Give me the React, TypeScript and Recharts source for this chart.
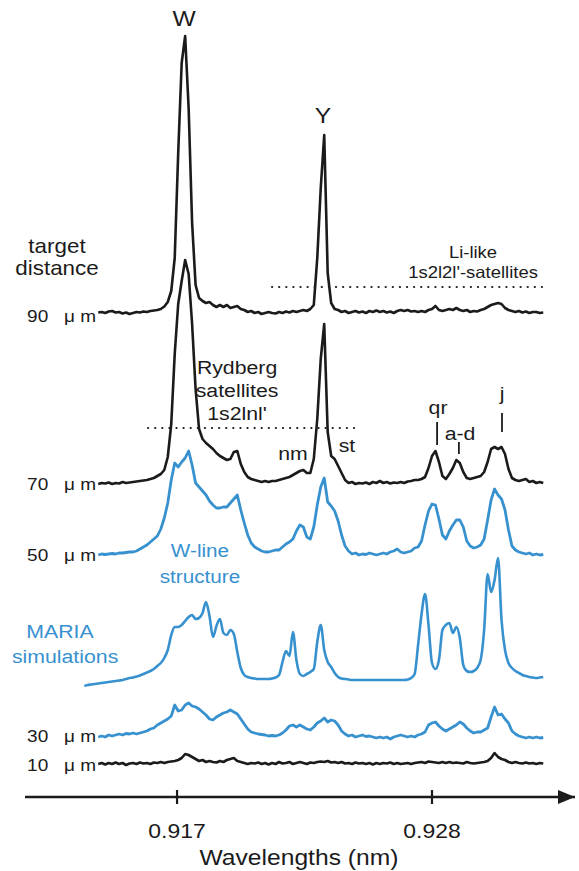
import {
  LineChart,
  Line,
  XAxis,
  YAxis,
  ReferenceDot,
  ReferenceLine,
} from "recharts";

const FONT = '"Liberation Sans", Arial, Helvetica, sans-serif';
const INK = "#1b1b1b";
const BLUE = "#3891cf";

// wavelength grid (nm) shared by all spectra
const wavelengths = [
  0.913, 0.91315, 0.9133, 0.91345, 0.9136, 0.91375, 0.9139, 0.91405, 0.9142, 0.91435, 0.9145, 0.91465, 0.9148, 0.91495, 0.9151, 0.91525, 0.9154, 0.91555, 0.9157, 0.91585,
  0.916, 0.91615, 0.9163, 0.91645, 0.9166, 0.91675, 0.9169, 0.91705, 0.9172, 0.91735, 0.9175, 0.91765, 0.9178, 0.91795, 0.9181, 0.91825, 0.9184, 0.91855, 0.9187, 0.91885,
  0.919, 0.91915, 0.9193, 0.91945, 0.9196, 0.91975, 0.9199, 0.92005, 0.9202, 0.92035, 0.9205, 0.92065, 0.9208, 0.92095, 0.9211, 0.92125, 0.9214, 0.92155, 0.9217, 0.92185,
  0.922, 0.92215, 0.9223, 0.92245, 0.9226, 0.92275, 0.9229, 0.92305, 0.9232, 0.92335, 0.9235, 0.92365, 0.9238, 0.92395, 0.9241, 0.92425, 0.9244, 0.92455, 0.9247, 0.92485,
  0.925, 0.92515, 0.9253, 0.92545, 0.9256, 0.92575, 0.9259, 0.92605, 0.9262, 0.92635, 0.9265, 0.92665, 0.9268, 0.92695, 0.9271, 0.92725, 0.9274, 0.92755, 0.9277, 0.92785,
  0.928, 0.92815, 0.9283, 0.92845, 0.9286, 0.92875, 0.9289, 0.92905, 0.9292, 0.92935, 0.9295, 0.92965, 0.9298, 0.92995, 0.9301, 0.93025, 0.9304, 0.93055, 0.9307, 0.93085,
  0.931, 0.93115, 0.9313, 0.93145, 0.9316, 0.93175, 0.9319, 0.93205, 0.9322, 0.93235, 0.9325, 0.93265, 0.9328,
];

// intensities above each spectrum's own baseline (arb. units), null = not recorded
const spec90 = [
  null, null, null, null, 0.5, 1, 0, 1.5, 2, 0.5, 1, -0.5, 0.5, -1, 0, 1, 0.5, 1.5, 1, 2,
  2.5, 3, 4, 6.5, 11, 22, 55, 160, 250, 277, 205, 90, 28, 15, 12, 10, 11, 8, 6, 8,
  6, 8, 5, 6, 7, 4, 3, 1, 2, 0, 1, -1, 0, 1, 0, -0.5, 1, 0, 1.5, 0.5,
  2, 1, 2, 3, 2, 4, 8, 55, 125, 178, 40, 10, 4, 3, 1, 2, 0, 1, 2, 0.5,
  1.5, 0, 2, 1, 2.5, 1, 2, 0.5, 1.5, 0, 2, 3, 2, 3, 1.5, 2, 1, 2, 1, 3,
  4, 7, 3, 2, 3, 4, 3, 5, 3, 2, 3, 1, 2, 1.5, 3, 4, 6, 8, 9, 10,
  9, 5, 3, 2, 1, 2, 0.5, 1.5, 0, 1, 1, 0, 0.5,
];

const spec70 = [
  null, null, null, null, 0, 1, 0.5, 1.5, 0, 1, 0.5, 2, 1, 1.5, 2, 2.5, 3, 3.5, 4, 5,
  6, 8, 10, 14, 27, 60, 130, 180, 203, 224, 210, 160, 95, 55, 45, 41, 38, 35, 31, 28,
  26, 24, 25, 32, 33, 20, 12, 7, 5, 4, 3, 2, 3, 2, 3, 3, 4, 5, 6, 7,
  9, 11, 13, 14, 11, 11, 25, 65, 125, 160, 52, 28, 25, 18, 11, 4, 1, 2, 0, 1,
  0.5, 1.5, 0, 2, 1, 3, 1, 2, 0.5, 1.5, 1, 2, 1, 2.5, 3, 4, 4, 5, 7, 16,
  28, 33, 22, 8, 5, 10, 16, 24, 21, 12, 6, 5, 6, 7, 8, 12, 22, 35, 37, 35,
  37, 30, 15, 6, 4, 3, 4, 5, 2, 3, 1, 2, 1,
];

const spec50 = [
  null, null, null, null, 0, 1, 0.5, 1, 1.5, 1, 2, 2, 2.5, 3, 3, 4, 6, 8, 10, 13,
  16, 19, 26, 37, 52, 75, 92, 88, 93, 97, 104, 90, 72, 68, 64, 60, 54, 50, 47, 47,
  48, 48, 52, 56, 60, 45, 32, 20, 12, 8, 6, 4, 3, 3, 4, 5, 5, 8, 11, 13,
  16, 24, 30, 28, 18, 16, 28, 50, 68, 77, 53, 49, 44, 34, 20, 9, 4, 1, 2, 0,
  1, 0.5, 2, 1, 0, 1, 2, 1, 3, 4, 6, 3, 2, 3, 4, 7, 8, 14, 30, 44,
  51, 50, 36, 20, 16, 24, 30, 35, 35, 28, 14, 9, 7, 8, 10, 16, 35, 55, 66, 60,
  56, 45, 25, 9, 5, 3, 2, 1, 2, 0, 1, 0, 0.5,
];

const mariaSim = [
  -6, -5, -4.5, -4, -3.5, -3, -2.5, -2, -1.5, -1, -0.5, 0, 1, 2, 2.5, 3.5, 4.5, 6, 7.5, 9,
  11, 14, 17, 22, 30, 45, 53, 53, 55, 59, 63, 65, 61, 62, 67, 78, 64, 43, 54, 61,
  47, 45, 50, 46, 28, 12, 5, 3, 2, 1.5, 1, 1, 1, 1, 1.5, 2.5, 5, 18, 29, 24,
  48, 20, 6, 4, 6, 8, 11, 38, 55, 30, 18, 13, 7, 3, 1.5, 1, 0.5, 0, 0, 0,
  0, 0, 0, 0, 0, 0, 0, 0, 0, 0, 0, 0, 0, 0.5, 2, 6, 35, 66, 86, 55,
  17, 11, 20, 50, 55, 57, 47, 53, 42, 15, 9, 8, 9, 12, 20, 50, 106, 88, 100, 122,
  60, 30, 17, 12, 9, 7, 5, 4, 3, 2.5, 2, 2.5, 3,
];

const spec30 = [
  null, null, null, null, 0, 1, 0, 2, 1, 2, 3, 2, 3.5, 3, 4, 3, 4, 5, 6, 8,
  9, 12, 14, 16, 18, 21, 32, 26, 27, 32, 34, 31, 30, 28, 25, 22, 18, 17, 20, 22,
  24, 25, 27, 25, 23, 18, 13, 8, 5, 4, 3, 2.5, 2, 1, 1.5, 1, 2, 4, 7, 11,
  12, 10, 12, 10, 8, 7, 10, 14, 16, 19, 15, 17, 16, 12, 6, 3, 1, 2, 0, 1,
  2, 0.5, 1, 0, -1, 0, -1, 0, -2, 0, 1, 2, 1, 0, 1, 0, 2, 3, 5, 12,
  14, 15, 11, 8, 6, 8, 10, 12, 15, 13, 9, 6, 4, 5, 5, 7, 9, 20, 30, 22,
  23, 18, 14, 6, 3, 1, 0, -1, 0, -1, 0, -1, -0.5,
];

const spec10 = [
  null, null, null, null, 0, 1, -0.5, 1, 0, 1.5, 0, 1, -1, 0.5, 1, 0, 1.5, 0.5, 1, 0,
  1.5, 1, 2, 1, 2, 2.5, 3, 4, 6, 10, 9, 7, 5, 3, 4, 2, 3, 2, 1.5, 3,
  2, 4, 5, 6, 3, 2, 1, 0, 1, 0.5, 1.5, 0, 1, -0.5, 1, 0, 2, 0.5, 1, 2,
  0, 1, 2, 1, 0, 1.5, 1, 2, 2.5, 2, 3, 1.5, 2, 1, 2, 0.5, 1, 0, 1.5, 0.5,
  1, 0, 1, -0.5, 1, 0, 1, 0.5, 1.5, 0, 1, 0, 0.5, 1, 0, 1, 1.5, 2, 1, 2.5,
  2, 1.5, 1, 2, 1, 2, 1, 1.5, 1, 0.5, 2, 1, 0.5, 1, 1.5, 2, 3, 6, 11, 7,
  5, 4, 2, 1, 2, 1, 0.5, 1.5, 0.5, 1, 0, 1, 0.5,
];

const tickValues = [0.917, 0.928];

// spectra are stacked: each one sits on its own baseline
const traces = [
  { key: "d90", values: spec90, base: 484, color: INK, curve: "linear", width: 2.6 },
  { key: "d70", values: spec70, base: 313, color: INK, curve: "linear", width: 2.6 },
  { key: "d50", values: spec50, base: 242, color: BLUE, curve: "linear", width: 2.8 },
  { key: "maria", values: mariaSim, base: 117, color: BLUE, curve: "monotone", width: 2.6 },
  { key: "d30", values: spec30, base: 60, color: BLUE, curve: "linear", width: 2.8 },
  { key: "d10", values: spec10, base: 33, color: INK, curve: "linear", width: 2.6 },
];

const rows = wavelengths.map((wl, i) => {
  const row: Record<string, number | null> = { wl };
  traces.forEach((t) => {
    const v = t.values[i];
    row[t.key] = v == null ? null : v + t.base;
  });
  return row;
});

const MU = "\u03bc";
const notes = [
  { text: "W", wl: 0.9173, y: 779, size: 22, color: INK },
  { text: "Y", wl: 0.9233, y: 682, size: 22, color: INK },
  { text: "target", wl: 0.91182, y: 551, size: 20, color: INK },
  { text: "distance", wl: 0.91182, y: 529, size: 20, color: INK },
  { text: `90\u00a0\u00a0\u00a0${MU}\u00a0m`, wl: 0.91053, y: 481, size: 17, color: INK, anchor: "start" },
  { text: `70\u00a0\u00a0\u00a0${MU}\u00a0m`, wl: 0.91053, y: 313, size: 17, color: INK, anchor: "start" },
  { text: `50\u00a0\u00a0\u00a0${MU}\u00a0m`, wl: 0.91053, y: 242, size: 17, color: INK, anchor: "start" },
  { text: `30\u00a0\u00a0\u00a0${MU}\u00a0m`, wl: 0.91053, y: 61, size: 17, color: INK, anchor: "start" },
  { text: `10\u00a0\u00a0\u00a0${MU}\u00a0m`, wl: 0.91053, y: 32, size: 17, color: INK, anchor: "start" },
  { text: "Li-like", wl: 0.92977, y: 545, size: 16.5, color: INK },
  { text: "1s2l2l'-satellites", wl: 0.92977, y: 525, size: 16.5, color: INK },
  { text: "Rydberg", wl: 0.91959, y: 430, size: 19, color: INK },
  { text: "satellites", wl: 0.91959, y: 407, size: 19, color: INK },
  { text: "1s2lnl'", wl: 0.91959, y: 384, size: 19, color: INK },
  { text: "nm", wl: 0.922, y: 344, size: 19, color: INK },
  { text: "st", wl: 0.92433, y: 352, size: 19, color: INK },
  { text: "qr", wl: 0.92826, y: 390, size: 19, color: INK },
  { text: "a-d", wl: 0.92921, y: 364, size: 19, color: INK },
  { text: "j", wl: 0.93102, y: 404, size: 19, color: INK },
  { text: "W-line", wl: 0.91799, y: 247, size: 18.5, color: BLUE },
  { text: "structure", wl: 0.91799, y: 221, size: 18.5, color: BLUE },
  { text: "MARIA", wl: 0.91195, y: 166, size: 19, color: BLUE },
  { text: "simulations", wl: 0.91217, y: 141, size: 19, color: BLUE },
  { text: "Wavelengths (nm)", wl: 0.92226, y: -60, size: 22, color: INK },
];

const dottedGuides = [
  { from: 0.9211, to: 0.93296, y: 510 },
  { from: 0.91575, to: 0.92468, y: 369 },
];

const markers = [
  { wl: 0.92822, y1: 352, y2: 375 },
  { wl: 0.92916, y1: 343, y2: 355 },
  { wl: 0.93102, y1: 365, y2: 384 },
];

const AxisTick = (props: any) => {
  const { x, y, payload } = props;
  return (
    <g>
      <line x1={x} x2={x} y1={y - 7} y2={y + 7} stroke={INK} strokeWidth={2.2} />
      <text
        transform={`translate(${x},${y + 34}) scale(1.12,1)`}
        textAnchor="middle"
        dominantBaseline="central"
        fontSize={20.5}
        fontFamily={FONT}
        fill={INK}
      >
        {Number(payload.value).toFixed(3)}
      </text>
    </g>
  );
};

const note = (n: (typeof notes)[number], i: number) => (
  <ReferenceDot
    key={`n${i}`}
    x={n.wl}
    y={n.y}
    r={0}
    ifOverflow="visible"
    shape={(p: any) => (
      <text
        transform={`translate(${p.cx},${p.cy}) scale(1.12,1)`}
        textAnchor={(n as any).anchor ?? "middle"}
        dominantBaseline="central"
        fontSize={n.size}
        fontFamily={FONT}
        fill={n.color}
      >
        {n.text}
      </text>
    )}
  />
);

export default function App() {
  return (
    <div style={{ position: "absolute", left: 0, top: 0, background: "#fff" }}>
      <LineChart
        width={579}
        height={871}
        data={rows}
        margin={{ top: 0, right: 4, bottom: 0, left: 25 }}
      >
        <XAxis
          dataKey="wl"
          type="number"
          domain={[0.91044, 0.93417]}
          allowDataOverflow
          ticks={tickValues}
          interval={0}
          height={74}
          tickSize={0}
          tickMargin={0}
          tickLine={false}
          axisLine={{ stroke: INK, strokeWidth: 2.5 }}
          tick={<AxisTick />}
        />
        <YAxis hide type="number" domain={[0, 797]} allowDataOverflow />
        {dottedGuides.map((g, i) => (
          <ReferenceLine
            key={`g${i}`}
            segment={[
              { x: g.from, y: g.y },
              { x: g.to, y: g.y },
            ]}
            stroke={INK}
            strokeWidth={2.2}
            strokeDasharray="0.1 7"
            strokeLinecap="round"
            ifOverflow="visible"
          />
        ))}
        {markers.map((m, i) => (
          <ReferenceLine
            key={`m${i}`}
            segment={[
              { x: m.wl, y: m.y1 },
              { x: m.wl, y: m.y2 },
            ]}
            stroke={INK}
            strokeWidth={1.8}
            ifOverflow="visible"
          />
        ))}
        {traces.map((t) => (
          <Line
            key={t.key}
            dataKey={t.key}
            type={t.curve as any}
            stroke={t.color}
            strokeWidth={t.width}
            strokeLinejoin="round"
            dot={false}
            activeDot={false}
            isAnimationActive={false}
          />
        ))}
        <ReferenceDot
          x={0.93417}
          y={0}
          r={0}
          ifOverflow="visible"
          shape={(p: any) => (
            <polygon
              points={`${p.cx},${p.cy} ${p.cx - 17},${p.cy - 7} ${p.cx - 17},${p.cy + 7}`}
              fill={INK}
            />
          )}
        />
        {notes.map(note)}
      </LineChart>
    </div>
  );
}
